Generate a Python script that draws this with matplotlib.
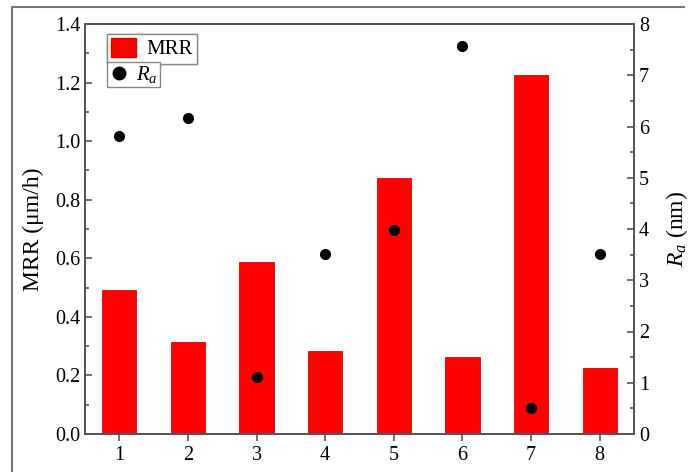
import numpy as np
import matplotlib.pyplot as plt
from matplotlib.lines import Line2D
from matplotlib.patches import Patch
from matplotlib.ticker import MultipleLocator

plt.rcParams["font.family"] = ["Liberation Serif", "DejaVu Serif"]
plt.rcParams["mathtext.fontset"] = "custom"
plt.rcParams["mathtext.it"] = "Liberation Serif:italic"
plt.rcParams["mathtext.rm"] = "Liberation Serif"

# samples 1..8: removal rate (bars) and roughness (dots)
samples = [1, 2, 3, 4, 5, 6, 7, 8]
mrr = [0.491, 0.315, 0.586, 0.283, 0.875, 0.263, 1.225, 0.224]
ra = [5.82, 6.17, 1.12, 3.52, 3.99, 7.57, 0.50, 3.52]

fig = plt.figure(figsize=(6.89, 4.72), dpi=100)
ax = fig.add_axes([85/689, 1 - 434/472, (634-85)/689, (434-24)/472])
ax2 = ax.twinx()

ax.bar(samples, mrr, width=0.5, color="#ff0000", edgecolor="#e00000", linewidth=0.6, zorder=2)
ax2.plot(samples, ra, "o", color="black", markersize=7, zorder=3)

ax.set_xlim(0.5, 8.5)
ax.set_ylim(0, 1.4)
ax2.set_ylim(0, 8)
ax.set_xticks(samples)
ax.yaxis.set_major_locator(MultipleLocator(0.2))
ax.yaxis.set_minor_locator(MultipleLocator(0.1))
ax2.yaxis.set_major_locator(MultipleLocator(1))
ax2.yaxis.set_minor_locator(MultipleLocator(0.5))
ax.yaxis.set_major_formatter(plt.FormatStrFormatter("%.1f"))

axis_col = "#555555"
tick_fs = 14.5
for a in (ax, ax2):
    for s in a.spines.values():
        s.set_color(axis_col)
        s.set_linewidth(1.4)
ax.tick_params(axis="y", which="both", direction="in", color=axis_col, labelsize=tick_fs, width=1.2)
ax.tick_params(axis="y", which="major", length=5)
ax.tick_params(axis="y", which="minor", length=3)
ax.tick_params(axis="x", direction="out", length=5, width=1.2, color=axis_col, labelsize=tick_fs)
ax2.tick_params(axis="y", which="both", direction="in", color=axis_col, labelsize=tick_fs, width=1.2)
ax2.tick_params(axis="y", which="major", length=5)
ax2.tick_params(axis="y", which="minor", length=3)

ax.set_ylabel("MRR (μm/h)", fontsize=17, labelpad=8)
ax2.set_ylabel(r"$R_a$ (nm)", fontsize=17, labelpad=11)

# separate legend boxes for each series
leg1 = ax.legend(handles=[Patch(facecolor="#ff0000", edgecolor="#e00000", label="MRR")],
                 loc="upper left", bbox_to_anchor=(0.040, 0.976), fontsize=15,
                 fancybox=False, edgecolor="#888888", framealpha=1,
                 handlelength=1.2, handleheight=1.0, handletextpad=0.5,
                 borderpad=0.2, borderaxespad=0)
ax.add_artist(leg1)
leg2 = ax2.legend(handles=[Line2D([], [], marker="o", color="black", linestyle="none",
                                  markersize=9, label=r"$R_a$")],
                  loc="upper left", bbox_to_anchor=(0.040, 0.907), fontsize=15,
                  fancybox=False, edgecolor="#888888", framealpha=1,
                  handlelength=1.0, handletextpad=0.3, borderpad=0.1, borderaxespad=0)

# outer frame lines along the left and top
fig.add_artist(Line2D([12/689, 12/689], [0, 1 - 7/472], color="#777777", linewidth=1.5))
fig.add_artist(Line2D([12/689, 684/689], [1 - 7/472, 1 - 7/472], color="#777777", linewidth=1.5))

fig.savefig("out.png", dpi=100)
